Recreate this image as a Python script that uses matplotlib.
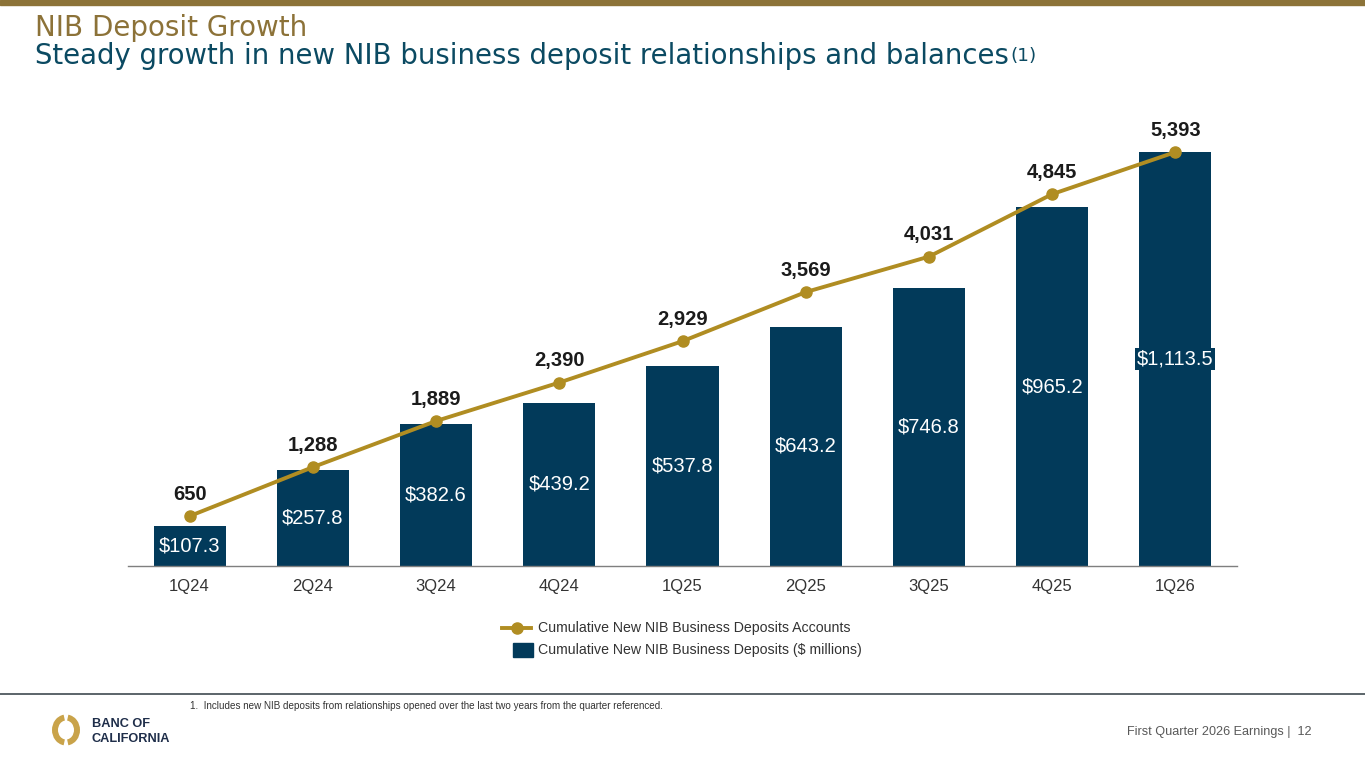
import matplotlib
matplotlib.use("Agg")
import matplotlib.pyplot as plt
from matplotlib.patches import Arc, Rectangle
from matplotlib.lines import Line2D

plt.rcParams['font.family'] = ['Liberation Sans', 'DejaVu Sans']

quarters = ["1Q24", "2Q24", "3Q24", "4Q24", "1Q25", "2Q25", "3Q25", "4Q25", "1Q26"]
deposits_musd = [107.3, 257.8, 382.6, 439.2, 537.8, 643.2, 746.8, 965.2, 1113.5]
accounts = [650, 1288, 1889, 2390, 2929, 3569, 4031, 4845, 5393]

BAR_C = "#023A5A"
GOLD = "#B08D22"
TITLE_GOLD = "#8C7238"
SUB_C = "#0B4A62"

W, H = 1365, 768
fig = plt.figure(figsize=(W / 100, H / 100), dpi=100)

def fx(px):
    return px / W

def fy(py):
    return 1 - py / H

# top band
fig.patches.append(Rectangle((0, fy(4.5)), 1, 4.5 / H, transform=fig.transFigure,
                             color="#8C7338", zorder=0))

# Titles
TFONT = ['DejaVu Sans']
fig.text(fx(35), fy(36.5), "NIB Deposit Growth", color=TITLE_GOLD, fontsize=20.0,
         va="baseline", ha="left", family=TFONT)
sub = fig.text(fx(35), fy(64.5), "Steady growth in new NIB business deposit relationships and balances",
               color=SUB_C, fontsize=19.85, va="baseline", ha="left", family=TFONT)
fig.canvas.draw()
bb = sub.get_window_extent(fig.canvas.get_renderer())
fig.text(bb.x1 / W + 2 / W, fy(61), "(1)", color=SUB_C, fontsize=13.2, va="baseline",
         ha="left", family=TFONT)

# Main axes
left, right, base, top = 128, 1237, 566, 100
ax = fig.add_axes([fx(left), fy(base), (right - left) / W, (base - top) / H])
x = list(range(len(quarters)))
bars = ax.bar(x, deposits_musd, width=0.585, color=BAR_C, zorder=2)
ax.set_xlim(-0.5, len(quarters) - 0.5)
ax.set_ylim(0, (base - top) / 0.3718)
for s in ["top", "right", "left"]:
    ax.spines[s].set_visible(False)
ax.spines["bottom"].set_color("#7F7F7F")
ax.spines["bottom"].set_linewidth(1.0)
ax.set_yticks([])
ax.set_xticks(x)
ax.set_xticklabels(quarters, fontsize=12, color="#333333")
ax.tick_params(axis="x", length=0, pad=9)

for i, v in enumerate(deposits_musd):
    kw = {}
    if i == len(deposits_musd) - 1:
        kw["bbox"] = dict(boxstyle="square,pad=0.08", facecolor=BAR_C, edgecolor="none")
    ax.text(i, v / 2, f"${v:,.1f}", ha="center", va="center", color="white",
            fontsize=14.5, zorder=4, **kw)

ax2 = ax.twinx()
ax2.set_ylim(0, (base - top) / 0.07675)
ax2.plot(x, accounts, color=GOLD, lw=2.8, marker="o", ms=8, zorder=3)
ax2.axis("off")
for i, v in enumerate(accounts):
    ax2.annotate(f"{v:,}", (i, v), xytext=(0, 9), textcoords="offset points",
                 ha="center", va="bottom", fontsize=14.5, fontweight="bold", color="#1B1B1B")

# Legend (manual)
fig.lines.append(Line2D([fx(502), fx(531)], [fy(628), fy(628)], color=GOLD, lw=2.8,
                        transform=fig.transFigure))
fig.lines.append(Line2D([fx(516.5)], [fy(628)], color=GOLD, marker="o", ms=8,
                        transform=fig.transFigure))
fig.text(fx(538), fy(628), "Cumulative New NIB Business Deposits Accounts", fontsize=10.15,
         color="#333333", va="center", ha="left")
fig.patches.append(Rectangle((fx(513), fy(657)), 20 / W, 14 / H, transform=fig.transFigure,
                             color=BAR_C))
fig.text(fx(538), fy(650), "Cumulative New NIB Business Deposits ($ millions)", fontsize=10.15,
         color="#333333", va="center", ha="left")

# Footer line
fig.lines.append(Line2D([0, 1], [fy(694), fy(694)], color="#3F4A50", lw=1.2,
                        transform=fig.transFigure))
fig.text(fx(190), fy(706), "1.  Includes new NIB deposits from relationships opened over the last two years from the quarter referenced.",
         fontsize=7.15, color="#333333", va="center", ha="left")
fig.text(fx(1312), fy(732), "First Quarter 2026 Earnings |  12", fontsize=9.1,
         color="#595959", va="center", ha="right")

# Logo
lax = fig.add_axes([fx(48), fy(750), 36 / W, 40 / H])
lax.set_xlim(0, 36)
lax.set_ylim(0, 40)
lax.axis("off")
lax.add_patch(Arc((18, 20), 22, 25, theta1=98, theta2=262, lw=4.3, color="#C9A34A"))
lax.add_patch(Arc((18, 20), 22, 25, theta1=-82, theta2=82, lw=4.3, color="#C9A34A"))
fig.text(fx(92), fy(727), "BANC OF", fontsize=9.2, fontweight="bold", color="#1F2E4A",
         va="baseline", ha="left")
fig.text(fx(92), fy(742), "CALIFORNIA", fontsize=9.2, fontweight="bold", color="#1F2E4A",
         va="baseline", ha="left")

fig.savefig("out.png", dpi=100)
